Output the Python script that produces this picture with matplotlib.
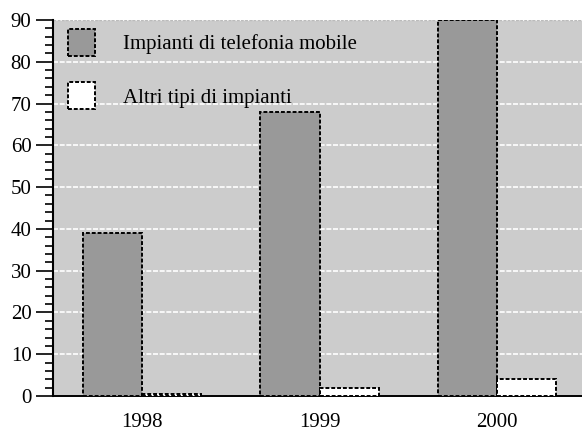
import matplotlib
matplotlib.use("Agg")
import matplotlib.pyplot as plt
import numpy as np
from matplotlib.ticker import MultipleLocator

years = ["1998", "1999", "2000"]
mobile = [39, 68, 90]
altri = [0.5, 2, 4]
labels = ["Impianti di telefonia mobile", "Altri tipi di impianti"]

plt.rcParams['font.family'] = ['Liberation Serif', 'DejaVu Serif']

fig = plt.figure(figsize=(5.82, 4.32), dpi=100)
ax = fig.add_axes([53/582, 1-396/432, 1-53/582, (396-20)/432])
ax.set_facecolor('#cccccc')

x = np.arange(len(years))
w = 1/3
ls = (0, (2, 1))
ax.bar(x - w/2, mobile, w, color='#999999', edgecolor='black', linewidth=1.4, linestyle=ls, zorder=3, label=labels[0])
ax.bar(x + w/2, altri, w, color='white', edgecolor='black', linewidth=1.4, linestyle=ls, zorder=3, label=labels[1])

ax.set_ylim(0, 90)
ax.set_xlim(-0.503, 2.48)
ax.yaxis.set_major_locator(MultipleLocator(10))
ax.yaxis.set_minor_locator(MultipleLocator(2))
ax.grid(axis='y', color='white', linestyle=(0, (3, 1)), linewidth=1.2, zorder=1)
ax.set_axisbelow(True)

for s in ['top', 'right']:
    ax.spines[s].set_visible(False)
ax.spines['left'].set_linewidth(1.5)
ax.spines['bottom'].set_linestyle(ls)
ax.spines['bottom'].set_linewidth(1.4)
ax.axhline(90, color='#bbbbbb', linestyle=(0, (2, 1)), linewidth=1.0, zorder=2)

ax.set_xticks(x)
ax.set_xticklabels(years)
ax.tick_params(axis='x', length=0, pad=12, labelsize=15)
ax.tick_params(axis='y', which='major', direction='out', length=12, width=1.2, labelsize=15, pad=3.5)
ax.tick_params(axis='y', which='minor', direction='out', length=6, width=1.2)

leg = ax.legend(loc='upper left', bbox_to_anchor=(0.0117, 1.0), frameon=False, fontsize=15,
                handlelength=1.3, handleheight=1.62, labelspacing=1.28, handletextpad=1.35,
                borderaxespad=0.3, borderpad=0.12)

fig.savefig('out.png', dpi=100)
